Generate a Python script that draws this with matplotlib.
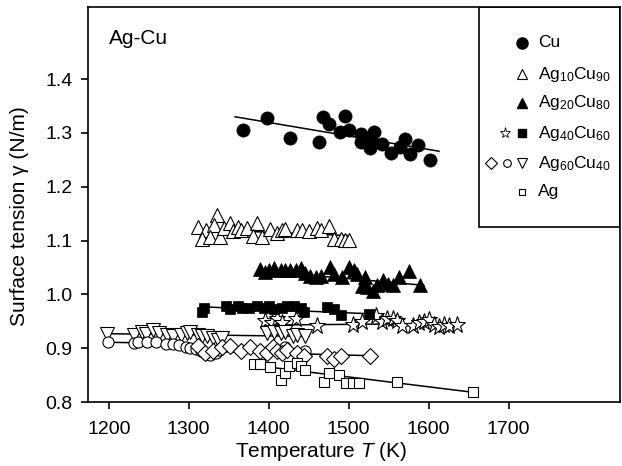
"""
Surface tension of liquid Ag-Cu alloys vs. temperature (gamma(T)).
Saves out.png (622x466 px).
"""

import matplotlib
matplotlib.use("Agg")
import matplotlib.pyplot as plt
from matplotlib.patches import Rectangle

plt.rcParams["font.family"] = ["Liberation Sans", "DejaVu Sans"]
plt.rcParams["mathtext.fontset"] = "custom"
plt.rcParams["mathtext.rm"] = "Liberation Sans"
plt.rcParams["mathtext.it"] = "Liberation Sans:italic"

# --- Cu (filled circles)
cu_T = [1368, 1398, 1427, 1463, 1468, 1475, 1496, 1489, 1500, 1515, 1516, 1527,
        1532, 1528, 1542, 1553, 1564, 1571, 1577, 1587, 1602]
cu_g = [1.305, 1.328, 1.291, 1.283, 1.329, 1.316, 1.331, 1.302, 1.305, 1.298, 1.283, 1.272,
        1.302, 1.289, 1.280, 1.263, 1.273, 1.289, 1.260, 1.277, 1.250]
cu_fit_T = [1358, 1613]
cu_fit_g = [1.330, 1.266]

# --- Ag10Cu90 (open up-triangles)
a10_T = [1311, 1335, 1321, 1332, 1317, 1327, 1339, 1344, 1352, 1355, 1361, 1365, 1373, 1386,
         1381, 1392, 1402, 1411, 1417, 1421, 1436, 1442, 1450, 1461, 1465, 1475, 1482, 1490,
         1496, 1500]
a10_g = [1.126, 1.147, 1.120, 1.129, 1.103, 1.106, 1.107, 1.123, 1.132, 1.117, 1.126, 1.120,
         1.123, 1.132, 1.109, 1.107, 1.121, 1.114, 1.120, 1.121, 1.120, 1.119, 1.117, 1.123,
         1.120, 1.127, 1.103, 1.103, 1.101, 1.101]
a10_fit_T = [1312, 1502]
a10_fit_g = [1.121, 1.109]

# --- Ag20Cu80 (filled up-triangles)
a20_T = [1389, 1395, 1400, 1407, 1415, 1421, 1427, 1434, 1440, 1446, 1452, 1459, 1465, 1477,
         1482, 1492, 1500, 1507, 1511, 1521, 1517, 1523, 1531, 1536, 1543, 1549, 1556, 1563,
         1575, 1589]
a20_g = [1.047, 1.041, 1.046, 1.049, 1.045, 1.045, 1.046, 1.046, 1.049, 1.040, 1.034, 1.032,
         1.035, 1.051, 1.037, 1.032, 1.051, 1.045, 1.037, 1.032, 1.015, 1.014, 1.006, 1.018,
         1.026, 1.020, 1.018, 1.032, 1.043, 1.017]
a20_fit_T = [1386, 1594]
a20_fit_g = [1.044, 1.017]

# --- Ag40Cu60 (filled squares and open stars)
a40s_T = [1319, 1317, 1347, 1352, 1361, 1367, 1375, 1386, 1394, 1400, 1407, 1417, 1423, 1432,
          1440, 1444, 1473, 1482, 1490, 1525]
a40s_g = [0.975, 0.967, 0.978, 0.973, 0.979, 0.975, 0.975, 0.978, 0.975, 0.978, 0.973, 0.975,
          0.978, 0.978, 0.975, 0.967, 0.977, 0.972, 0.961, 0.963]
a40s_fit_T = [1315, 1527]
a40s_fit_g = [0.977, 0.964]

a40st_T = [1396, 1404, 1411, 1417, 1434, 1461, 1505, 1517, 1534, 1542, 1548, 1555, 1561, 1567,
           1580, 1588, 1594, 1600, 1607, 1613, 1619, 1625, 1636]
a40st_g = [0.951, 0.946, 0.955, 0.946, 0.955, 0.941, 0.943, 0.949, 0.959, 0.949, 0.955, 0.955,
           0.951, 0.941, 0.941, 0.947, 0.949, 0.952, 0.943, 0.940, 0.943, 0.941, 0.943]
a40st_fit_T = [1394, 1640]
a40st_fit_g = [0.943, 0.946]

# --- Ag60Cu40 (open down-triangles, circles, diamonds)
a60v_T = [1198, 1232, 1241, 1246, 1255, 1263, 1273, 1280, 1290, 1298, 1302, 1311, 1317, 1323,
          1330, 1336, 1342, 1398, 1407, 1415, 1421, 1430, 1436, 1446]
a60v_g = [0.927, 0.925, 0.931, 0.927, 0.934, 0.928, 0.925, 0.922, 0.925, 0.928, 0.931, 0.925,
          0.922, 0.922, 0.919, 0.915, 0.919, 0.928, 0.931, 0.928, 0.931, 0.922, 0.925, 0.922]
a60v_fit_T = [1195, 1450]
a60v_fit_g = [0.927, 0.922]

a60o_T = [1199, 1232, 1237, 1248, 1259, 1271, 1280, 1288, 1296, 1302, 1309, 1315, 1321, 1327,
          1334, 1338, 1420, 1446]
a60o_g = [0.911, 0.909, 0.912, 0.911, 0.912, 0.908, 0.908, 0.906, 0.903, 0.900, 0.898, 0.894,
          0.890, 0.888, 0.891, 0.896, 0.902, 0.895]
a60o_fit_T = [1199, 1240]
a60o_fit_g = [0.911, 0.910]

a60d_T = [1311, 1320, 1330, 1342, 1352, 1365, 1377, 1389, 1398, 1405, 1411, 1417, 1423, 1436,
          1444, 1473, 1482, 1490, 1527]
a60d_g = [0.904, 0.891, 0.894, 0.903, 0.904, 0.894, 0.903, 0.894, 0.891, 0.903, 0.894, 0.891,
          0.897, 0.891, 0.885, 0.885, 0.880, 0.885, 0.886]
a60d_fit_T = [1300, 1530]
a60d_fit_g = [0.895, 0.886]

# --- Ag (open squares)
ag_T = [1382, 1389, 1402, 1415, 1421, 1426, 1436, 1440, 1446, 1469, 1475, 1488, 1497, 1505,
        1513, 1561, 1656]
ag_g = [0.871, 0.871, 0.865, 0.840, 0.854, 0.867, 0.872, 0.866, 0.859, 0.838, 0.853, 0.850,
        0.835, 0.835, 0.835, 0.837, 0.818]
ag_fit_T = [1405, 1656]
ag_fit_g = [0.864, 0.818]

x_ticks = [1200, 1300, 1400, 1500, 1600, 1700]
y_ticks = [0.8, 0.9, 1.0, 1.1, 1.2, 1.3, 1.4]


def open_pts(ax, T, g, marker, ms):
    ax.plot(T, g, ls="none", marker=marker, ms=ms, mfc="white", mec="black", mew=0.8)


def filled_pts(ax, T, g, marker, ms):
    ax.plot(T, g, ls="none", marker=marker, ms=ms, mfc="black", mec="black", mew=0.5)


fig = plt.figure(figsize=(6.22, 4.66), dpi=100)
ax = fig.add_axes([0.1415, 0.1373, 0.856, 0.8477])

# Fit-Geraden
for fT, fg in [(cu_fit_T, cu_fit_g), (a10_fit_T, a10_fit_g), (a20_fit_T, a20_fit_g),
               (a40s_fit_T, a40s_fit_g), (a40st_fit_T, a40st_fit_g), (a60v_fit_T, a60v_fit_g),
               (a60o_fit_T, a60o_fit_g), (a60d_fit_T, a60d_fit_g), (ag_fit_T, ag_fit_g)]:
    ax.plot(fT, fg, color="black", lw=1.1, zorder=1)

filled_pts(ax, cu_T, cu_g, "o", 9.5)
open_pts(ax, a10_T, a10_g, "^", 9.5)
filled_pts(ax, a20_T, a20_g, "^", 10)
open_pts(ax, a40st_T, a40st_g, "*", 12.5)
filled_pts(ax, a40s_T, a40s_g, "s", 7.5)
open_pts(ax, a60v_T, a60v_g, "v", 9.5)
open_pts(ax, a60o_T, a60o_g, "o", 8)
open_pts(ax, a60d_T, a60d_g, "D", 8)
open_pts(ax, ag_T, ag_g, "s", 6.5)

ax.set_xlim(1174, 1840)
ax.set_ylim(0.8, 1.534)
ax.set_xticks(x_ticks)
ax.set_yticks(y_ticks)
ax.set_yticklabels([f"{v:.1f}" for v in y_ticks])
ax.tick_params(labelsize=14, width=1.2, length=5, direction="out")
ax.tick_params(axis="x", pad=9)
ax.tick_params(axis="y", pad=6)
for sp in ax.spines.values():
    sp.set_linewidth(1.2)

ax.set_xlabel("Temperature $T$ (K)", fontsize=15)
ax.set_ylabel("Surface tension γ (N/m)", fontsize=15)
ax.xaxis.set_label_coords(0.4375, -0.097)
ax.yaxis.set_label_coords(-0.111, 0.47)
ax.text(0.04, 0.921, "Ag-Cu", transform=ax.transAxes, fontsize=15,
        ha="left", va="center")

# Legende als eigener Kasten oben rechts
ax.add_patch(Rectangle((0.734, 0.443), 0.266, 0.557, transform=ax.transAxes,
                       fill=False, ec="black", lw=1.2, zorder=5))
leg_y = [0.909, 0.830, 0.757, 0.681, 0.605, 0.532]
leg_lbl = ["Cu", "Ag$_{10}$Cu$_{90}$", "Ag$_{20}$Cu$_{80}$", "Ag$_{40}$Cu$_{60}$",
           "Ag$_{60}$Cu$_{40}$", "Ag"]
kw = dict(transform=ax.transAxes, ls="none", mec="black", zorder=6, clip_on=False)
ax.plot(0.815, leg_y[0], marker="o", ms=8, mfc="black", **kw)
ax.plot(0.815, leg_y[1], marker="^", ms=6.5, mfc="white", mew=0.8, **kw)
ax.plot(0.815, leg_y[2], marker="^", ms=6.5, mfc="black", **kw)
ax.plot(0.784, leg_y[3], marker="*", ms=8, mfc="white", mew=0.6, **kw)
ax.plot(0.815, leg_y[3], marker="s", ms=6, mfc="black", **kw)
ax.plot(0.757, leg_y[4], marker="D", ms=6, mfc="white", mew=0.8, **kw)
ax.plot(0.786, leg_y[4], marker="o", ms=5.5, mfc="white", mew=0.8, **kw)
ax.plot(0.815, leg_y[4], marker="v", ms=6.5, mfc="white", mew=0.8, **kw)
ax.plot(0.815, leg_y[5], marker="s", ms=5, mfc="white", mew=0.8, **kw)
for y, lbl in zip(leg_y, leg_lbl):
    ax.text(0.845, y, lbl, transform=ax.transAxes, fontsize=12.5, ha="left",
            va="center", zorder=6)

fig.savefig("out.png", dpi=100)
